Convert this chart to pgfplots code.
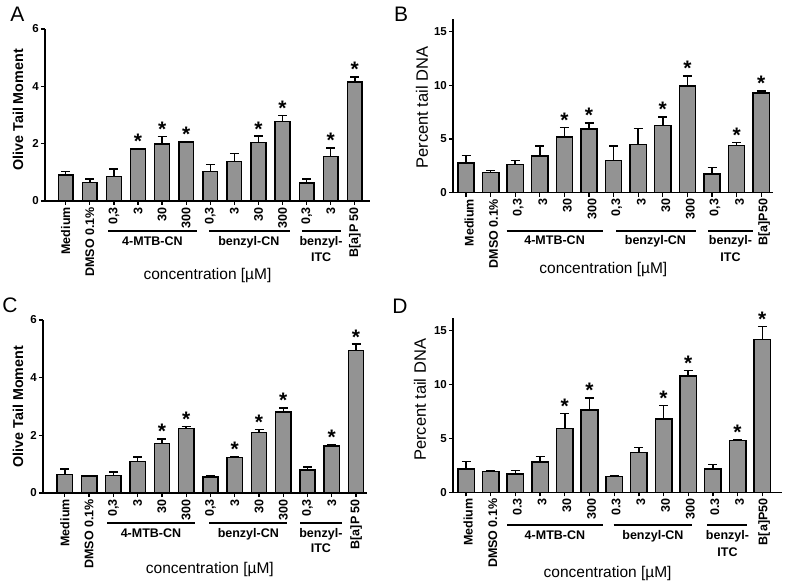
\documentclass[border=0pt]{standalone}
\usepackage{fontspec}
\setmainfont{Liberation Sans}
\usepackage{pgfplots}
\pgfplotsset{compat=1.18}
\definecolor{barfill}{HTML}{939393}
\newcommand\fs[1]{\fontsize{#1}{#1}\selectfont}
\pgfplotsset{
  panel/.style={
    scale only axis, anchor=south west, clip=false,
    axis x line*=bottom, axis y line*=left,
    axis line style={line width=1.6pt},
    every tick/.style={black, line width=1.3pt},
    major tick length=4pt, tick align=outside,
    ymin=0, xtick={0,...,12},
    /pgf/number format/assume math mode=true,
    yticklabel style={font=\bfseries\fs{11.5}, inner sep=2pt},
    xticklabel style={font=\bfseries\fs{12.5}, rotate=90, anchor=east, inner sep=2pt},
    xlabel style={font=\fs{15.5}, anchor=center},
  },
  bars/.style={ybar, bar width=#1, fill=barfill, draw=black, line width=1.5pt,
    error bars/y dir=plus, error bars/y explicit,
    error bars/error bar style={line width=1.5pt, black},
    error bars/error mark options={rotate=90, mark size=4.5pt, line width=1.5pt, black}},
  stars/.style={draw=none, mark=none, point meta=explicit symbolic, nodes near coords,
    nodes near coords style={anchor=south, inner sep=0pt, yshift=0pt, font=\bfseries\fs{21}, text=black}},
}
\newcommand\grp[6]{% y-line, x1, x2, xc, ybase, label
  \draw[line width=1.8pt] ([yshift=-#1pt]axis cs:#2,0) -- ([yshift=-#1pt]axis cs:#3,0);
  \node[font=\bfseries\fs{12.5}, anchor=base] at ([yshift=-#5pt]axis cs:#4,0) {#6};
}
\begin{document}
\begin{tikzpicture}
\path[use as bounding box] (0,0) rectangle (787pt,-585pt);
% ---------------- A
\begin{axis}[panel, at={(45pt,-201pt)}, width=325pt, height=172pt,
  xmin=-0.86, xmax=12.63, ymax=6, ytick={0,2,4,6},
  xticklabels={Medium, DMSO 0.1\%, {0,3}, 3, 30, 300, {0,3}, 3, 30, 300, {0,3}, 3, {B[a]P 50}},
  ylabel={Olive Tail Moment},
  ylabel style={font=\bfseries\fs{14.3}, at={([xshift=-27pt]axis description cs:0,0.53)}, anchor=center},
  xlabel={concentration [µM]}, xlabel style={at={(axis description cs:0.5,0)}, yshift=-74pt}]
\addplot[bars=0.61] coordinates {
 (0,0.91) +- (0,0.12) (1,0.65) +- (0,0.12) (2,0.85) +- (0,0.27) (3,1.81) +- (0,0.03)
 (4,1.99) +- (0,0.26) (5,2.05) +- (0,0.02) (6,1.03) +- (0,0.24) (7,1.38) +- (0,0.27)
 (8,2.04) +- (0,0.22) (9,2.77) +- (0,0.22) (10,0.62) +- (0,0.15) (11,1.56) +- (0,0.29)
 (12,4.15) +- (0,0.18)};
\addplot[stars] coordinates {(3,1.84)[*] (4,2.25)[*] (5,2.07)[*] (8,2.26)[*] (9,2.99)[*] (11,1.85)[*] (12,4.33)[*]};
\grp{30}{1.76}{5.45}{3.6}{44.5}{4-MTB-CN}
\grp{30}{5.95}{9.3}{7.6}{44.5}{benzyl-CN}
\grp{30}{9.8}{11.42}{10.6}{44.5}{benzyl-}
\node[font=\bfseries\fs{12.5}, anchor=base] at ([yshift=-60.5pt]axis cs:10.6,0) {ITC};
\end{axis}
% ---------------- B
\begin{axis}[panel, at={(453pt,-192.7pt)}, width=320pt, height=173.7pt,
  xmin=-0.53, xmax=12.48, ymax=16.19, ytick={0,5,10,15},
  xticklabel style={yshift=-3pt},
  xticklabels={Medium, DMSO 0.1\%, {0,3}, 3, 30, 300, {0,3}, 3, 30, 300, {0,3}, 3, {B[a]P50}},
  ylabel={Percent tail DNA},
  ylabel style={font=\fs{16.5}, at={([xshift=-31pt]axis description cs:0,0.49)}, anchor=center},
  xlabel={concentration [µM]}, xlabel style={at={(axis description cs:0.47,0)}, yshift=-77pt}]
\addplot[bars=0.66] coordinates {
 (0,2.77) +- (0,0.69) (1,1.87) +- (0,0.22) (2,2.62) +- (0,0.38) (3,3.40) +- (0,0.93)
 (4,5.20) +- (0,0.90) (5,5.92) +- (0,0.58) (6,3.00) +- (0,1.33) (7,4.49) +- (0,1.49)
 (8,6.26) +- (0,0.81) (9,9.94) +- (0,0.96) (10,1.74) +- (0,0.63) (11,4.39) +- (0,0.28)
 (12,9.28) +- (0,0.22)};
\addplot[stars] coordinates {(4,6.10)[*] (5,6.50)[*] (8,7.07)[*] (9,10.90)[*] (11,4.67)[*] (12,9.50)[*]};
\grp{38}{1.65}{5.57}{3.6}{51.5}{4-MTB-CN}
\grp{38}{6.1}{9.35}{7.7}{51.5}{benzyl-CN}
\grp{38}{9.84}{11.67}{10.75}{51.5}{benzyl-}
\node[font=\bfseries\fs{12.5}, anchor=base] at ([yshift=-68.5pt]axis cs:10.75,0) {ITC};
\end{axis}
% ---------------- C
\begin{axis}[panel, at={(43pt,-493pt)}, width=324pt, height=173pt,
  xmin=-0.9, xmax=12.45, ymax=6, ytick={0,2,4,6},
  xticklabels={Medium, DMSO 0.1\%, {0,3}, 3, 30, 300, {0,3}, 3, 30, 300, {0,3}, 3, {B[a]P 50}},
  ylabel={Olive Tail Moment},
  ylabel style={font=\bfseries\fs{14.3}, at={([xshift=-25pt]axis description cs:0,0.5)}, anchor=center},
  xlabel={concentration [µM]}, xlabel style={at={(axis description cs:0.515,0)}, yshift=-76pt}]
\addplot[bars=0.63] coordinates {
 (0,0.65) +- (0,0.19) (1,0.59) +- (0,0.02) (2,0.61) +- (0,0.11) (3,1.10) +- (0,0.15)
 (4,1.71) +- (0,0.17) (5,2.23) +- (0,0.08) (6,0.55) +- (0,0.04) (7,1.23) +- (0,0.04)
 (8,2.09) +- (0,0.12) (9,2.81) +- (0,0.14) (10,0.80) +- (0,0.11) (11,1.63) +- (0,0.06)
 (12,4.95) +- (0,0.21)};
\addplot[stars] coordinates {(4,1.88)[*] (5,2.31)[*] (7,1.27)[*] (8,2.21)[*] (9,2.95)[*] (11,1.69)[*] (12,5.16)[*]};
\grp{30}{1.74}{5.37}{3.55}{44.5}{4-MTB-CN}
\grp{30}{5.95}{9.17}{7.56}{44.5}{benzyl-CN}
\grp{30}{9.7}{11.4}{10.55}{44.5}{benzyl-}
\node[font=\bfseries\fs{12.5}, anchor=base] at ([yshift=-59.5pt]axis cs:10.55,0) {ITC};
\end{axis}
% ---------------- D
\begin{axis}[panel, at={(453pt,-492.3pt)}, width=329pt, height=174.3pt,
  xmin=-0.53, xmax=12.8, ymax=16.14, ytick={0,5,10,15},
  xticklabel style={yshift=-2pt},
  xticklabels={Medium, DMSO 0.1\%, 0.3, 3, 30, 300, 0.3, 3, 30, 300, 0.3, 3, {B[a]P50}},
  ylabel={Percent tail DNA},
  ylabel style={font=\fs{16.5}, at={([xshift=-33pt]axis description cs:0,0.53)}, anchor=center},
  xlabel={concentration [µM]}, xlabel style={at={(axis description cs:0.47,0)}, yshift=-81pt}]
\addplot[bars=0.67] coordinates {
 (0,2.16) +- (0,0.71) (1,1.94) +- (0,0.10) (2,1.70) +- (0,0.30) (3,2.81) +- (0,0.52)
 (4,5.90) +- (0,1.41) (5,7.60) +- (0,1.13) (6,1.45) +- (0,0.12) (7,3.70) +- (0,0.44)
 (8,6.79) +- (0,1.23) (9,10.77) +- (0,0.53) (10,2.16) +- (0,0.40) (11,4.81) +- (0,0.03)
 (12,14.14) +- (0,1.20)};
\addplot[stars] coordinates {(4,7.31)[*] (5,8.73)[*] (8,8.02)[*] (9,11.30)[*] (11,4.84)[*] (12,15.34)[*]};
\grp{33}{1.66}{5.54}{3.6}{47.5}{4-MTB-CN}
\grp{33}{5.98}{9.16}{7.57}{47.5}{benzyl-CN}
\grp{33}{9.78}{11.4}{10.59}{47.5}{benzyl-}
\node[font=\bfseries\fs{12.5}, anchor=base] at ([yshift=-64.5pt]axis cs:10.59,0) {ITC};
\end{axis}
\node[font=\fs{21}] at (17.5pt,-14.5pt) {A};
\node[font=\fs{21}] at (401pt,-14.5pt) {B};
\node[font=\fs{21}] at (10pt,-305pt) {C};
\node[font=\fs{21}] at (400pt,-306pt) {D};
\end{tikzpicture}
\end{document}
